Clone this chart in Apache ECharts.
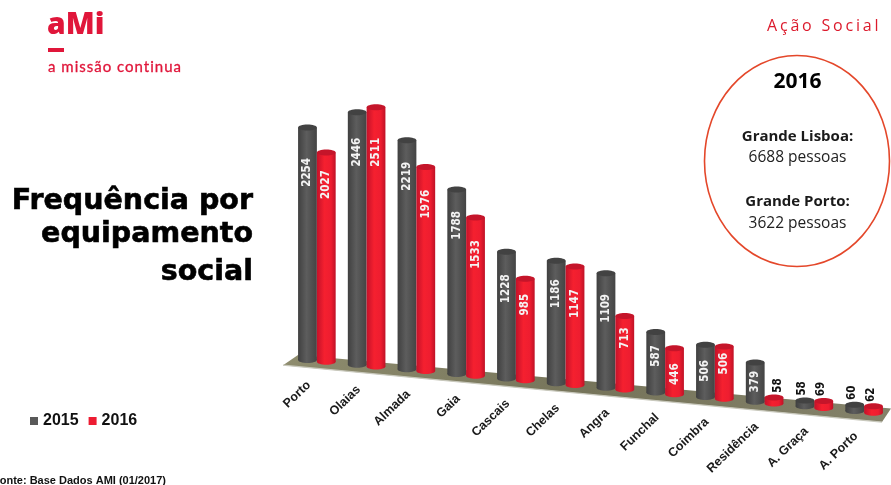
<!DOCTYPE html>
<html lang="pt">
<head>
<meta charset="utf-8">
<title>Frequência por equipamento social</title>
<style>
  html, body { margin: 0; padding: 0; background: #fff; }
  #chart { width: 891px; height: 485px; }
</style>
<script src="https://cdn.jsdelivr.net/npm/echarts@6/dist/echarts.min.js"></script>
</head>
<body>
<div id="chart"></div>
<script>
// Attendance per social facility
const categories = ['Porto', 'Olaias', 'Almada', 'Gaia', 'Cascais', 'Chelas', 'Angra',
  'Funchal', 'Coimbra', 'Residência', 'A. Graça', 'A. Porto'];
const values2015 = [2254, 2446, 2219, 1788, 1228, 1186, 1109, 587, 506, 379, 58, 60];
const values2016 = [2027, 2511, 1976, 1533, 985, 1147, 713, 446, 506, 58, 69, 62];

// Hand-placed value labels: distance from the cap top to the label centre
// (negative means above the bar), and the sideways nudge of labels above a bar
const labelDrop2015 = [48, 43, 39, 39, 40, 36, 38, 27, 29, 22, -9, -9];
const labelDrop2016 = [35, 48, 40, 40, 29, 40, 25, 29, 20, -9, -9, -8.5];
const labelNudge2015 = [0, 0, 0, 0, 0, 0, 0, 0, 0, 0, -3, -3];
const labelNudge2016 = [0, 0, 0, 0, 0, 0, 0, 0, 0, 3.5, -3, -3];

const SLOPE = 0.0932;        // fall of the floor per pixel to the right
const BAR_HALF = 9.4;        // cylinder radius
const CAP_RY = 3;            // vertical radius of the end ellipses
const GRID = { left: 292, width: 597, top: 50.4, height: 309.6 };
const AXIS_MAX = 3000;

// Per-string letter spacing, which the canvas text path has no style option for
const tracking = { 'Ação Social': '2.8px', 'a missão continua': '1px' };
const plainFillText = CanvasRenderingContext2D.prototype.fillText;
const plainStrokeText = CanvasRenderingContext2D.prototype.strokeText;
CanvasRenderingContext2D.prototype.fillText = function (text, x, y, maxWidth) {
  this.letterSpacing = tracking[text] || '0px';
  plainFillText.call(this, text, x, y, maxWidth);
};
CanvasRenderingContext2D.prototype.strokeText = function (text, x, y, maxWidth) {
  this.letterSpacing = tracking[text] || '0px';
  plainStrokeText.call(this, text, x, y, maxWidth);
};

const shear = x => SLOPE * (x - (GRID.left + 15.5));
const sideGradient = stops => new echarts.graphic.LinearGradient(0, 0, 1, 0,
  stops.map(([offset, color]) => ({ offset, color })));

const palette = {
  2015: {
    body: [[0, '#404040'], [0.45, '#5d5d5d'], [1, '#444444']],
    cap: '#424242', legend: '#595959'
  },
  2016: {
    body: [[0, '#c4122a'], [0.4, '#f5202f'], [0.75, '#ee1d30'], [1, '#bf1226']],
    cap: '#c5152a', legend: '#ed1c32'
  }
};

function barSeries(name, data, side, drops, nudges) {
  const colors = palette[name];
  return {
    name: String(name),
    type: 'custom',
    coordinateSystem: 'cartesian2d',
    clip: false,
    z: 3,
    itemStyle: { color: colors.legend },
    encode: { x: 0, y: 1 },
    data: data.map((v, i) => [i, v]),
    renderItem(params, api) {
      const i = api.value(0);
      const v = api.value(1);
      const base = api.coord([i, 0]);
      const top = api.coord([i, v]);
      const x = base[0] + side * BAR_HALF;
      const yBase = base[1] + shear(x);
      const yTop = top[1] + shear(x);
      const small = v < 100;
      const children = [
        { type: 'ellipse', shape: { cx: x, cy: yBase, rx: BAR_HALF, ry: CAP_RY },
          style: { fill: sideGradient(colors.body) } },
        { type: 'rect', shape: { x: x - BAR_HALF, y: yTop, width: BAR_HALF * 2, height: yBase - yTop },
          style: { fill: sideGradient(colors.body) } },
        { type: 'ellipse', shape: { cx: x, cy: yTop, rx: BAR_HALF, ry: CAP_RY },
          style: { fill: colors.cap } },
        { type: 'text', x: x + nudges[i], y: yTop - CAP_RY + drops[i], rotation: Math.PI / 2,
          style: {
            text: String(v), x: 0, y: 0, align: 'center', verticalAlign: 'middle',
            fill: small ? '#111' : '#f4f4f4',
            font: 'bold 11.5px "DejaVu Sans Condensed", "DejaVu Sans", sans-serif'
          } }
      ];
      return { type: 'group', children };
    }
  };
}

const option = {
  animation: false,
  backgroundColor: '#fff',
  grid: GRID,
  xAxis: { type: 'category', data: categories, show: false, boundaryGap: true },
  yAxis: { type: 'value', min: 0, max: AXIS_MAX, show: false },
  legend: {
    left: 30, top: 413, itemWidth: 8, itemHeight: 8, itemGap: 10,
    icon: 'rect', selectedMode: false, padding: 0,
    data: ['2015', '2016'],
    textStyle: { fontFamily: '"Liberation Sans"', fontWeight: 'bold', fontSize: 16, color: '#111' }
  },
  series: [
    // Floor plate that the cylinders stand on
    {
      type: 'custom', coordinateSystem: 'cartesian2d', clip: false, z: 1, silent: true,
      data: [[0, 0]], encode: { x: 0, y: 1 },
      renderItem(params, api) {
        const y0 = api.coord([0, 0])[1];
        const at = (x, rise) => [x, y0 + shear(x) + rise];
        const points = [at(283, 7.5), at(298, -4), at(891, -6), at(882, 8.5)];
        return {
          type: 'group',
          children: [
            { type: 'polygon', shape: { points },
              style: { fill: sideGradient([[0, '#8e8c6e'], [0.5, '#76745a'], [1, '#84826a']]) } },
            { type: 'polyline', shape: { points: [points[0], points[3]] },
              style: { stroke: '#c9c9bd', lineWidth: 1.2, fill: null } }
          ]
        };
      }
    },
    barSeries(2015, values2015, -1, labelDrop2015, labelNudge2015),
    barSeries(2016, values2016, 1, labelDrop2016, labelNudge2016),
    // Category names follow the sloping floor
    {
      type: 'custom', coordinateSystem: 'cartesian2d', clip: false, z: 2, silent: true,
      data: categories.map((c, i) => [i, 0]), encode: { x: 0, y: 1 },
      renderItem(params, api) {
        const i = api.value(0);
        const p = api.coord([i, 0]);
        const x = p[0] - 8;
        return {
          type: 'text', x, y: p[1] + shear(x) + 23, rotation: 44 * Math.PI / 180,
          style: {
            text: categories[i], x: 0, y: 0, align: 'right', verticalAlign: 'middle',
            fill: '#1a1a1a', font: 'bold 12.5px "Liberation Sans", Arial, sans-serif'
          }
        };
      }
    }
  ],
  graphic: [
    // Organisation mark
    { type: 'text', x: 47, y: 10, style: { text: 'aMi', fill: '#e0163a', font: '800 30px "Open Sans", sans-serif' } },
    { type: 'rect', shape: { x: 48, y: 48, width: 16, height: 4 }, style: { fill: '#e0163a' } },
    { type: 'text', x: 48, y: 60, style: { text: 'a missão continua', fill: '#e0163a', stroke: '#e0163a', lineWidth: 0.3, font: '15px "Lato", sans-serif' } },
    { type: 'text', x: 767, y: 18, style: { text: 'Ação Social', fill: '#dc1a2c', font: '16px "Open Sans", sans-serif' } },

    // Title
    { type: 'text', x: 253, y: 187, style: { text: 'Frequência por', align: 'right', fill: '#000', stroke: '#000', lineWidth: 0.6, font: 'bold 28.5px "DejaVu Sans", sans-serif' } },
    { type: 'text', x: 253, y: 220, style: { text: 'equipamento', align: 'right', fill: '#000', stroke: '#000', lineWidth: 0.6, font: 'bold 28.5px "DejaVu Sans", sans-serif' } },
    { type: 'text', x: 253, y: 258, style: { text: 'social', align: 'right', fill: '#000', stroke: '#000', lineWidth: 0.6, font: 'bold 28.5px "DejaVu Sans", sans-serif' } },

    // 2016 regional totals
    { type: 'ellipse', shape: { cx: 797, cy: 161, rx: 92.5, ry: 105.5 }, style: { fill: null, stroke: '#e4472a', lineWidth: 1.6 } },
    { type: 'text', x: 797.5, y: 82, style: { text: '2016', align: 'center', verticalAlign: 'middle', fill: '#000', font: 'bold 21px "Open Sans", sans-serif' } },
    { type: 'text', x: 797.5, y: 137, style: { text: 'Grande Lisboa:', align: 'center', verticalAlign: 'middle', fill: '#1a1a1a', font: 'bold 15px "Open Sans", sans-serif' } },
    { type: 'text', x: 797.5, y: 158, style: { text: '6688 pessoas', align: 'center', verticalAlign: 'middle', fill: '#222', font: '15.5px "Open Sans", sans-serif' } },
    { type: 'text', x: 797.5, y: 202, style: { text: 'Grande Porto:', align: 'center', verticalAlign: 'middle', fill: '#1a1a1a', font: 'bold 15px "Open Sans", sans-serif' } },
    { type: 'text', x: 797.5, y: 224, style: { text: '3622 pessoas', align: 'center', verticalAlign: 'middle', fill: '#222', font: '15.5px "Open Sans", sans-serif' } },

    // Source line
    { type: 'text', x: -7, y: 475, style: { text: 'Fonte: Base Dados AMI (01/2017)', fill: '#111', font: 'bold 11px "Liberation Sans", Arial, sans-serif' } }
  ]
};

const chart = echarts.init(document.getElementById('chart'), null, { renderer: 'canvas' });
chart.setOption(option);
</script>
</body>
</html>
